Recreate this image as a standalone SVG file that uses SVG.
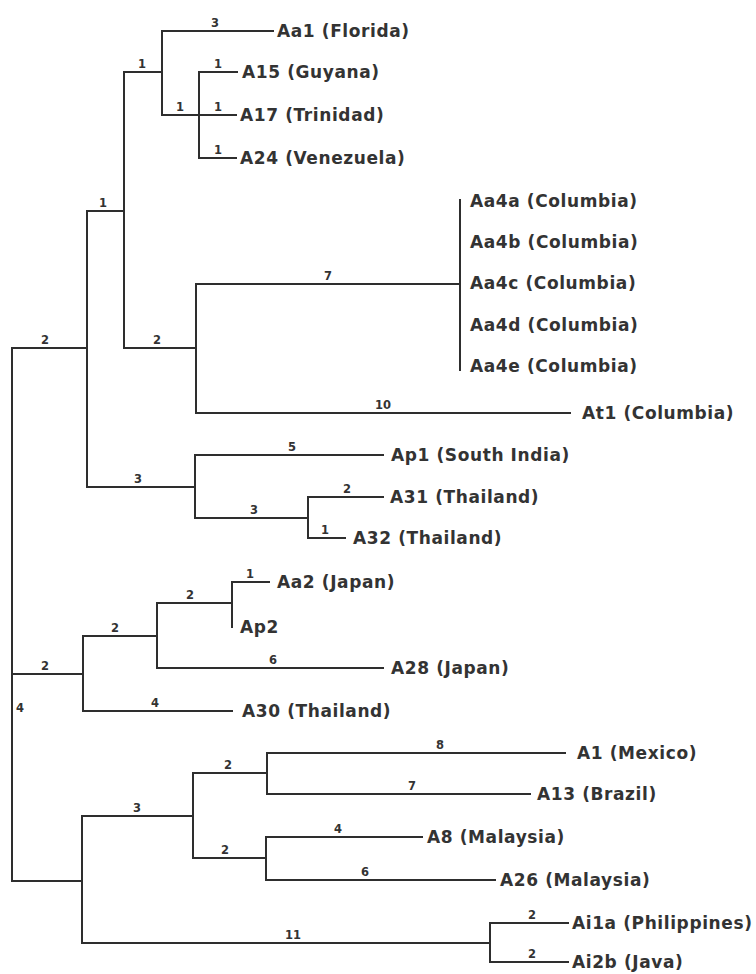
<svg xmlns="http://www.w3.org/2000/svg" width="756" height="974" viewBox="0 0 756 974">
<style>
.br{fill:none;stroke:#2e2e2e;stroke-width:2;stroke-linecap:square}
.lf{font-family:"DejaVu Sans","Verdana",sans-serif;font-weight:bold;font-size:17px;letter-spacing:0.6px;fill:#333}
.bl{font-family:"DejaVu Sans","Verdana",sans-serif;font-weight:bold;font-size:11.5px;fill:#333;text-anchor:middle}
</style>
<rect width="756" height="974" fill="#fff"/>
<g id="connectors">
<path class="br" d="M12,348 V881 M12,348 H87 M12,674 H83 M12,881 H82"/>
<path class="br" d="M87,211 V487 M87,211 H124 M87,487 H195"/>
<path class="br" d="M124,72 V348 M124,72 H162 M124,348 H196"/>
<path class="br" d="M162,31 V115 M162,31 H273 M162,115 H236"/>
<path class="br" d="M199,72 V158 M199,72 H237 M199,158 H236"/>
<path class="br" d="M196,284 V413 M196,284 H460 M196,413 H570"/>
<path class="br" d="M460,200 V370"/>
<path class="br" d="M195,455 V518 M195,455 H383 M195,518 H308"/>
<path class="br" d="M308,497 V538 M308,497 H383 M308,538 H345"/>
<path class="br" d="M83,636 V711 M83,636 H157 M83,711 H232"/>
<path class="br" d="M157,603 V668 M157,603 H232 M157,668 H383"/>
<path class="br" d="M232,582 V627 M232,582 H269"/>
<path class="br" d="M82,816 V943 M82,816 H193 M82,943 H490"/>
<path class="br" d="M193,773 V858 M193,773 H267 M193,858 H266"/>
<path class="br" d="M267,753 V794 M267,753 H565 M267,794 H530"/>
<path class="br" d="M266,837 V880 M266,837 H422 M266,880 H495"/>
<path class="br" d="M490,923 V962 M490,923 H568 M490,962 H568"/>
</g>
<g id="branch-lengths">
<text class="bl" x="45" y="344">2</text>
<text class="bl" x="45" y="670">2</text>
<text class="bl" x="20" y="712">4</text>
<text class="bl" x="103" y="207">1</text>
<text class="bl" x="138" y="483">3</text>
<text class="bl" x="142" y="68">1</text>
<text class="bl" x="157" y="344">2</text>
<text class="bl" x="215" y="27">3</text>
<text class="bl" x="180" y="111">1</text>
<text class="bl" x="218" y="68">1</text>
<text class="bl" x="218" y="111">1</text>
<text class="bl" x="218" y="154">1</text>
<text class="bl" x="328" y="280">7</text>
<text class="bl" x="383" y="409">10</text>
<text class="bl" x="292" y="451">5</text>
<text class="bl" x="254" y="514">3</text>
<text class="bl" x="347" y="493">2</text>
<text class="bl" x="325" y="534">1</text>
<text class="bl" x="115" y="632">2</text>
<text class="bl" x="155" y="707">4</text>
<text class="bl" x="190" y="599">2</text>
<text class="bl" x="273" y="664">6</text>
<text class="bl" x="250" y="578">1</text>
<text class="bl" x="137" y="812">3</text>
<text class="bl" x="293" y="939">11</text>
<text class="bl" x="228" y="769">2</text>
<text class="bl" x="225" y="854">2</text>
<text class="bl" x="440" y="749">8</text>
<text class="bl" x="412" y="790">7</text>
<text class="bl" x="338" y="833">4</text>
<text class="bl" x="365" y="876">6</text>
<text class="bl" x="532" y="919">2</text>
<text class="bl" x="532" y="958">2</text>
</g>
<g id="Aa1"><text class="lf" x="277" y="37">Aa1 (Florida)</text></g>
<g id="A15"><text class="lf" x="242" y="78">A15 (Guyana)</text></g>
<g id="A17"><text class="lf" x="240" y="121">A17 (Trinidad)</text></g>
<g id="A24"><text class="lf" x="240" y="164">A24 (Venezuela)</text></g>
<g id="Aa4a"><text class="lf" x="470" y="207">Aa4a (Columbia)</text></g>
<g id="Aa4b"><text class="lf" x="470" y="248">Aa4b (Columbia)</text></g>
<g id="Aa4c"><text class="lf" x="470" y="289">Aa4c (Columbia)</text></g>
<g id="Aa4d"><text class="lf" x="470" y="331">Aa4d (Columbia)</text></g>
<g id="Aa4e"><text class="lf" x="470" y="372">Aa4e (Columbia)</text></g>
<g id="At1"><text class="lf" x="582" y="419">At1 (Columbia)</text></g>
<g id="Ap1"><text class="lf" x="391" y="461">Ap1 (South India)</text></g>
<g id="A31"><text class="lf" x="390" y="503">A31 (Thailand)</text></g>
<g id="A32"><text class="lf" x="353" y="544">A32 (Thailand)</text></g>
<g id="Aa2"><text class="lf" x="277" y="588">Aa2 (Japan)</text></g>
<g id="Ap2"><text class="lf" x="240" y="633">Ap2</text></g>
<g id="A28"><text class="lf" x="391" y="674">A28 (Japan)</text></g>
<g id="A30"><text class="lf" x="242" y="717">A30 (Thailand)</text></g>
<g id="A1"><text class="lf" x="577" y="759">A1 (Mexico)</text></g>
<g id="A13"><text class="lf" x="537" y="800">A13 (Brazil)</text></g>
<g id="A8"><text class="lf" x="427" y="843">A8 (Malaysia)</text></g>
<g id="A26"><text class="lf" x="500" y="886">A26 (Malaysia)</text></g>
<g id="Ai1a"><text class="lf" x="572" y="929">Ai1a (Philippines)</text></g>
<g id="Ai2b"><text class="lf" x="572" y="968">Ai2b (Java)</text></g>
</svg>
